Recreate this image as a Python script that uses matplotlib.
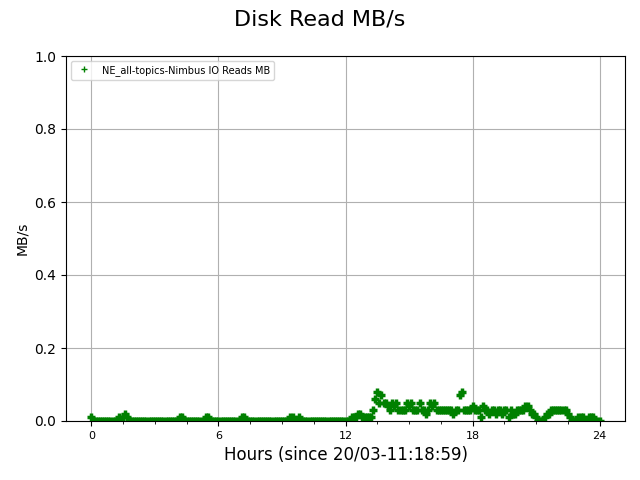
import matplotlib
matplotlib.use("Agg")
import matplotlib.pyplot as plt
from matplotlib.ticker import MultipleLocator

# Sample times: one sample every 0.1 hour from 0 to 24 hours
start_hour = 0.0
step_hour = 0.1

# Disk read MB/s, one row per hour (samples h.0 ... h.9)
reads_mb = [
    0.01, 0, 0, 0, 0, 0, 0, 0, 0, 0,                      # 0
    0, 0, 0, 0.01, 0, 0.01, 0.02, 0.01, 0, 0,             # 1
    0, 0, 0, 0, 0, 0, 0, 0, 0, 0,                         # 2
    0, 0, 0, 0, 0, 0, 0, 0, 0, 0,                         # 3
    0, 0, 0.01, 0.01, 0, 0, 0, 0, 0, 0,                   # 4
    0, 0, 0, 0, 0.01, 0.01, 0, 0, 0, 0,                   # 5
    0, 0, 0, 0, 0, 0, 0, 0, 0, 0,                         # 6
    0, 0.01, 0.01, 0, 0, 0, 0, 0, 0, 0,                   # 7
    0, 0, 0, 0, 0, 0, 0, 0, 0, 0,                         # 8
    0, 0, 0, 0, 0.01, 0.01, 0, 0, 0.01, 0,                # 9
    0, 0, 0, 0, 0, 0, 0, 0, 0, 0,                         # 10
    0, 0, 0, 0, 0, 0, 0, 0, 0, 0,                         # 11
    0, 0, 0, 0.01, 0.01, 0.01, 0.02, 0.02, 0.01, 0.01,    # 12
    0.01, 0.01, 0.01, 0.03, 0.06, 0.08, 0.05, 0.07, 0.05, 0.05,  # 13
    0.04, 0.03, 0.05, 0.04, 0.05, 0.03, 0.03, 0.03, 0.03, 0.05,  # 14
    0.04, 0.05, 0.03, 0.03, 0.03, 0.05, 0.03, 0.03, 0.02, 0.03,  # 15
    0.05, 0.04, 0.05, 0.03, 0.03, 0.03, 0.03, 0.03, 0.03, 0.03,  # 16
    0.03, 0.02, 0.03, 0.03, 0.07, 0.08, 0.03, 0.03, 0.03, 0.03,  # 17
    0.04, 0.03, 0.03, 0.03, 0.01, 0.04, 0.03, 0.03, 0.02, 0.03,  # 18
    0.03, 0.02, 0.03, 0.03, 0.02, 0.03, 0.03, 0.01, 0.03, 0.02,  # 19
    0.02, 0.03, 0.03, 0.03, 0.03, 0.04, 0.04, 0.03, 0.02, 0.02,  # 20
    0.01, 0, 0, 0, 0.01, 0.02, 0.02, 0.03, 0.03, 0.03,     # 21
    0.03, 0.03, 0.03, 0.03, 0.03, 0.02, 0.01, 0, 0, 0,     # 22
    0.01, 0.01, 0.01, 0, 0, 0.01, 0.01, 0.01, 0, 0,        # 23
    0,                                                     # 24
]
hours = [start_hour + i * step_hour for i in range(len(reads_mb))]

series_label = "NE_all-topics-Nimbus IO Reads MB"
x_ticks = [0, 6, 12, 18, 24]

fig, ax = plt.subplots(figsize=(6.4, 4.8), dpi=100)
ax.plot(hours, reads_mb, linestyle="none", marker="+", color="green",
        markersize=5.5, markeredgewidth=2.5, label=series_label)

fig.suptitle("Disk Read MB/s", fontsize=16)
ax.set_xlabel("Hours (since 20/03-11:18:59)", fontsize=12)
ax.set_ylabel("MB/s")
ax.set_ylim(0, 1)
ax.set_xticks(x_ticks)
ax.xaxis.set_minor_locator(MultipleLocator(1.5))
ax.tick_params(axis="x", labelsize=8)
ax.grid(True)
leg = ax.legend(loc="upper left", fontsize=7)
for h in leg.legend_handles:
    h.set_markersize(4)
    h.set_markeredgewidth(1.0)

fig.subplots_adjust(left=66/640, right=625/640, top=1-56/480, bottom=1-421/480)
fig.savefig("out.png", dpi=100)
